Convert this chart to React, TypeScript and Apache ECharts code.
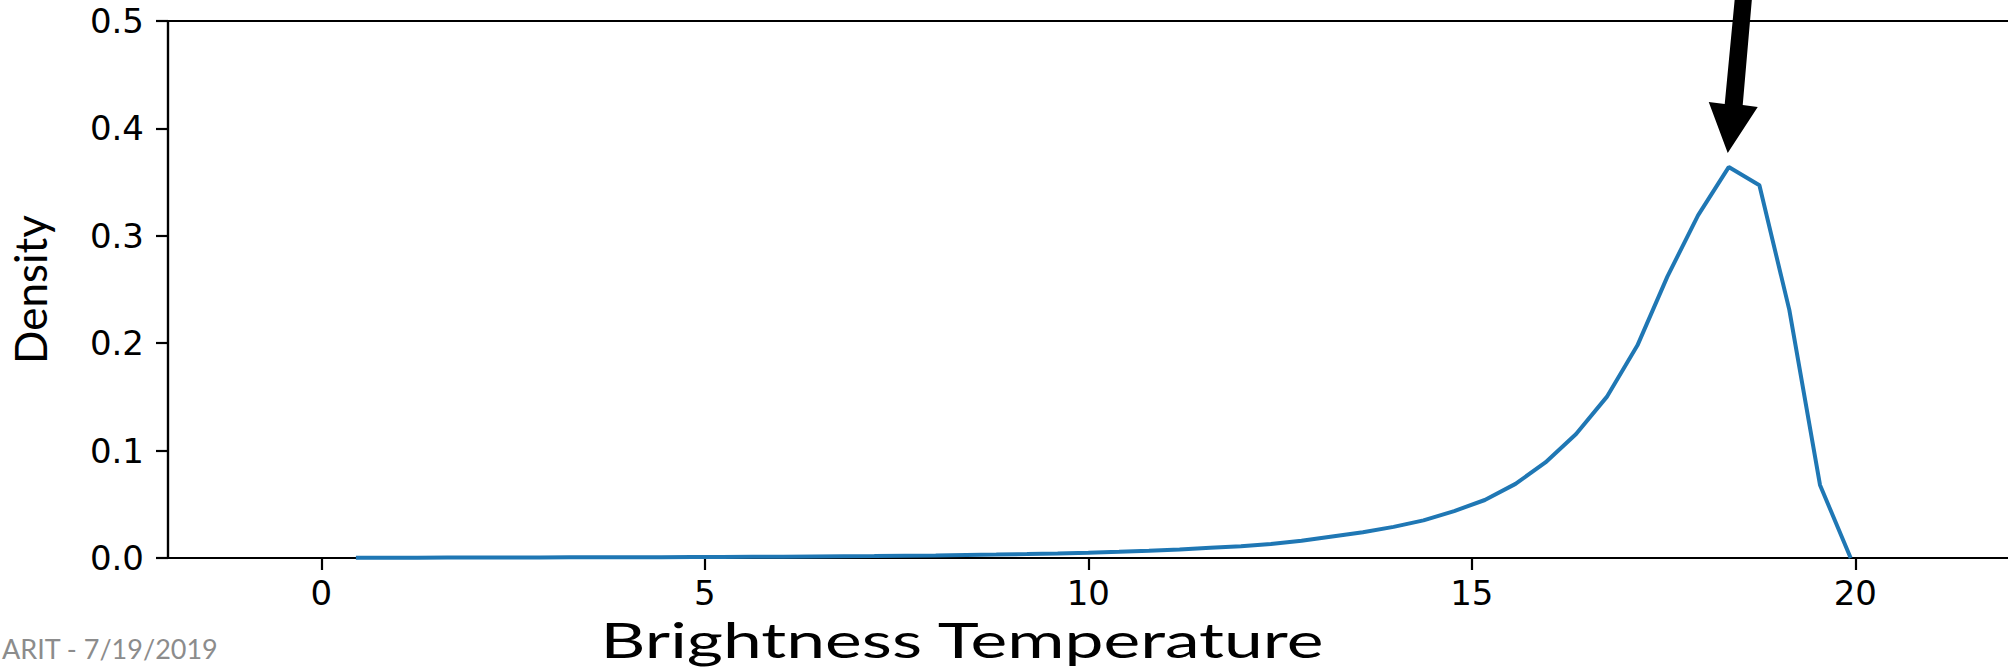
import React, { useEffect, useRef } from "react";
import * as echarts from "echarts";

// Grid of brightness temperature values (x) and estimated density (y)
const temperatures = [
  0.45, 0.85, 1.25, 1.64, 2.04, 2.44, 2.84, 3.23, 3.63, 4.03,
  4.43, 4.83, 5.22, 5.62, 6.02, 6.42, 6.81, 7.21, 7.61, 8.01,
  8.41, 8.8, 9.2, 9.6, 10.0, 10.4, 10.79, 11.19, 11.59, 11.99,
  12.38, 12.78, 13.18, 13.58, 13.98, 14.37, 14.77, 15.17, 15.57, 15.96,
  16.36, 16.76, 17.16, 17.55, 17.95, 18.35, 18.75, 19.14, 19.54, 19.94,
];
const densities = [
  0.0003, 0.0003, 0.0003, 0.0004, 0.0004, 0.0005, 0.0005, 0.0006, 0.0006, 0.0007,
  0.0008, 0.0009, 0.001, 0.0011, 0.0012, 0.0014, 0.0016, 0.0018, 0.0021, 0.0024,
  0.0028, 0.0032, 0.0037, 0.0043, 0.005, 0.0058, 0.0068, 0.008, 0.0095, 0.011,
  0.013, 0.016, 0.02, 0.024, 0.029, 0.035, 0.0437, 0.054, 0.069, 0.089,
  0.1155, 0.15, 0.198, 0.262, 0.319, 0.364, 0.347, 0.231, 0.068, 0.0,
];
const xTicks = [0, 5, 10, 15, 20];
const xTitle = "Brightness Temperature";
const yTitle = "Density";
const footer = "ARIT - 7/19/2019";

export default function App() {
  const ref = useRef<HTMLDivElement>(null);
  useEffect(() => {
    if (!ref.current) return;
    const chart = echarts.init(ref.current, null, { renderer: "svg" });
    const tickFont = { fontFamily: "DejaVu Sans", fontSize: 34, color: "#000" };
    chart.setOption({
      animation: false,
      backgroundColor: "#fff",
      grid: {
        left: 168,
        top: 21,
        bottom: 112,
        right: 6,
        show: true,
        borderColor: "#000",
        borderWidth: 2.2,
        containLabel: false,
        outerBoundsMode: "none",
      },
      xAxis: {
        type: "value",
        min: -2,
        max: 22.2,
        axisLine: { show: true, onZero: false, lineStyle: { color: "#000", width: 2.2 } },
        axisTick: { show: true, length: 12, lineStyle: { color: "#000", width: 2.2 }, customValues: xTicks },
        axisLabel: { ...tickFont, margin: 18, customValues: xTicks, formatter: (v: number) => String(v) },
        splitLine: { show: false },
      },
      yAxis: {
        type: "value",
        min: 0,
        max: 0.5,
        interval: 0.1,
        name: yTitle,
        nameLocation: "middle",
        nameRotate: 90,
        nameGap: 116,
        nameTextStyle: { fontFamily: "Lato", fontSize: 44, color: "#000" },
        axisLine: { show: true, onZero: false, lineStyle: { color: "#000", width: 2.2 } },
        axisTick: { show: true, length: 12, lineStyle: { color: "#000", width: 2.2 } },
        axisLabel: { ...tickFont, margin: 24, formatter: (v: number) => v.toFixed(1) },
        splitLine: { show: false },
      },
      series: [
        {
          type: "line",
          data: temperatures.map((t, i) => [t, densities[i]]),
          showSymbol: false,
          symbol: "none",
          lineStyle: { color: "#1f77b4", width: 4 },
          itemStyle: { color: "#1f77b4" },
          clip: false,
        },
      ],
    });

    let peak = 0;
    densities.forEach((d, i) => {
      if (d > densities[peak]) peak = i;
    });
    const tip = chart.convertToPixel({ xAxisIndex: 0, yAxisIndex: 0 }, [temperatures[peak], densities[peak]]) as number[];
    const tx = tip[0] - 1;
    const ty = tip[1] - 14;
    chart.setOption({
      graphic: [
        {
          type: "polygon",
          shape: {
            points: [
              [tx, ty],
              [tx + 30, ty - 46],
              [tx + 15, ty - 48],
              [tx + 26, ty - 175],
              [tx + 9, ty - 175],
              [tx - 3, ty - 49],
              [tx - 19, ty - 51],
            ],
          },
          style: { fill: "#000" },
          z: 100,
        },
        {
          type: "text",
          x: 962,
          y: 640,
          scaleX: 1.45,
          style: {
            text: xTitle,
            fontFamily: "Lato",
            fontSize: 48,
            fill: "#000",
            align: "center",
            verticalAlign: "middle",
          },
        },
        {
          type: "text",
          x: 2,
          y: 648,
          style: {
            text: footer,
            fontFamily: "Lato",
            fontSize: 27,
            fill: "#8c8c8c",
            align: "left",
            verticalAlign: "middle",
          },
        },
      ],
    });
    return () => chart.dispose();
  }, []);
  return (
    <div style={{ position: "fixed", left: 0, top: 0, width: 2008, height: 670, overflow: "hidden", background: "#fff" }}>
      <div ref={ref} style={{ width: 2030, height: 670 }} />
    </div>
  );
}
